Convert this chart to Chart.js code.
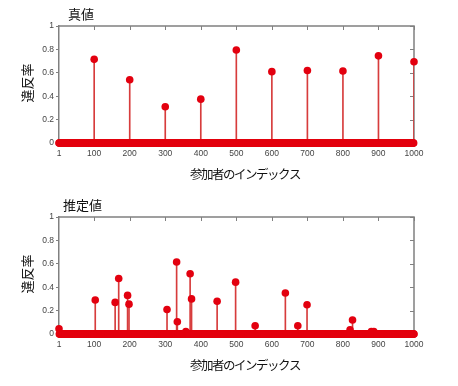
<!DOCTYPE html>
<html><head><meta charset="utf-8">
<script src="https://cdn.jsdelivr.net/npm/chart.js@4"></script>
<style>
html,body{margin:0;padding:0;background:#fff;width:458px;height:386px;overflow:hidden;}
canvas{position:absolute;left:0;}
</style></head><body>
<canvas id="c1" width="458" height="190" style="top:0px"></canvas>
<canvas id="c2" width="458" height="196" style="top:190px"></canvas>
<script>
const N = 1000;
const xTicks = [1, 100, 200, 300, 400, 500, 600, 700, 800, 900, 1000];
const yTicks = [0, 0.2, 0.4, 0.6, 0.8, 1];
const yTickLabels = ["0", "0.2", "0.4", "0.6", "0.8", "1"];

// 真値 (true values): nonzero participants
const trueIdx = [100, 200, 300, 400, 500, 600, 700, 800, 900, 1000];
const trueVal = [0.715, 0.54, 0.31, 0.375, 0.795, 0.61, 0.62, 0.615, 0.745, 0.695];

// 推定値 (estimated values): nonzero participants
const estIdx = [1, 103, 159, 169, 194, 198, 305, 332, 334, 358, 370, 374, 446, 498, 553, 638, 673, 699, 820, 827, 880, 887];
const estVal = [0.045, 0.29, 0.27, 0.475, 0.33, 0.255, 0.21, 0.615, 0.105, 0.02, 0.515, 0.30, 0.28, 0.443, 0.07, 0.35, 0.07, 0.25, 0.035, 0.12, 0.02, 0.02];

const titles = ["真値", "推定値"];
const xLabel = "参加者のインデックス";
const yLabel = "違反率";

const MARK = '#e3000f';
const STEM = 'rgb(215,60,60)';
const AXIS = '#808080';
const FONT_CJK = '"Noto Sans CJK JP", "Noto Sans", sans-serif';

function fullSeries(idx, val) {
  const v = new Array(N).fill(0);
  idx.forEach((i, k) => { v[i - 1] = val[k]; });
  return v.map((y, i) => ({ x: i + 1, y: y }));
}
function stems(idx, val) {
  return idx.map((i, k) => ({ x: i, y: val[k] }));
}

const framePlugin = {
  id: 'frame',
  beforeDatasetsDraw(chart) {
    const { ctx, chartArea: a, scales: { x, y } } = chart;
    ctx.save();
    ctx.strokeStyle = AXIS;
    ctx.lineWidth = 1.5;
    ctx.beginPath();
    ctx.moveTo(a.left, a.top);
    ctx.lineTo(a.right, a.top);
    ctx.lineTo(a.right, a.bottom);
    ctx.stroke();
    ctx.lineWidth = 1;
    ctx.beginPath();
    xTicks.forEach(v => {
      if (v === xTicks[0]) return;
      const px = Math.round(x.getPixelForValue(v)) + 0.5;
      ctx.moveTo(px, a.top); ctx.lineTo(px, a.top + 4);
      ctx.moveTo(px, a.bottom); ctx.lineTo(px, a.bottom - 4);
    });
    yTicks.forEach(v => {
      const py = Math.round(y.getPixelForValue(v)) + 0.5;
      ctx.moveTo(a.right, py); ctx.lineTo(a.right - 4, py);
    });
    ctx.stroke();
    ctx.restore();
  },
  afterDraw(chart, args, opts) {
    const { ctx } = chart;
    ctx.save();
    ctx.fillStyle = '#111';
    ctx.textBaseline = 'middle';
    ctx.font = '13px ' + FONT_CJK;
    ctx.textAlign = 'left';
    ctx.fillText(opts.title, opts.titleX, opts.titleY);
    ctx.textAlign = 'center';
    ctx.font = '12.5px ' + FONT_CJK;
    try { ctx.letterSpacing = '-1.5px'; } catch (e) {}
    ctx.fillText(xLabel, opts.xlX, opts.xlY);
    try { ctx.letterSpacing = '0px'; } catch (e) {}
    ctx.font = '13px ' + FONT_CJK;
    ctx.translate(opts.ylX, opts.ylY);
    ctx.rotate(-Math.PI / 2);
    ctx.fillText(yLabel, 0, 0);
    ctx.restore();
  }
};

function makeChart(id, idx, val, cfg) {
  return new Chart(document.getElementById(id), {
    type: 'scatter',
    data: {
      datasets: [
        {
          type: 'bar',
          data: stems(idx, val),
          backgroundColor: STEM,
          barThickness: 1,
          grouped: false,
          order: 2
        },
        {
          type: 'scatter',
          data: fullSeries(idx, val),
          backgroundColor: MARK,
          borderWidth: 0,
          pointRadius: 3.8,
          clip: false,
          order: 1
        }
      ]
    },
    options: {
      responsive: false,
      devicePixelRatio: 1,
      animation: false,
      events: [],
      layout: { padding: { left: 0, right: 44, top: cfg.top, bottom: 0 } },
      plugins: {
        legend: { display: false },
        tooltip: { enabled: false },
        title: { display: false },
        frame: cfg.frame
      },
      scales: {
        x: {
          type: 'linear',
          min: 1, max: 1000,
          offset: false,
          afterBuildTicks: s => { s.ticks = xTicks.map(v => ({ value: v })); },
          afterFit: s => { s.height = cfg.xh; },
          grid: { drawOnChartArea: false, drawTicks: false },
          border: { display: true, color: AXIS, width: 1.5 },
          ticks: {
            padding: 6,
            color: '#444',
            font: { family: '"Liberation Sans", Arial, sans-serif', size: 8.5 },
            maxRotation: 0,
            autoSkip: false,
            callback: v => String(v)
          }
        },
        y: {
          type: 'linear',
          min: 0, max: 1,
          afterBuildTicks: s => { s.ticks = yTicks.map(v => ({ value: v })); },
          afterFit: s => { s.width = 59; },
          grid: { drawOnChartArea: false, drawTicks: true, tickLength: 3, color: AXIS },
          border: { display: true, color: AXIS, width: 1.5 },
          ticks: {
            padding: 2,
            color: '#444',
            font: { family: '"Liberation Sans", Arial, sans-serif', size: 8.5 },
            callback: v => yTickLabels[yTicks.indexOf(v)] ?? String(v)
          }
        }
      }
    },
    plugins: [framePlugin]
  });
}

makeChart('c1', trueIdx, trueVal, {
  top: 26, xh: 47,
  frame: { title: titles[0], titleX: 68, titleY: 14, xlX: 245, xlY: 174, ylX: 27, ylY: 83 }
});
makeChart('c2', estIdx, estVal, {
  top: 27, xh: 52,
  frame: { title: titles[1], titleX: 63, titleY: 15, xlX: 245, xlY: 175, ylX: 27, ylY: 84 }
});
</script>
</body></html>
